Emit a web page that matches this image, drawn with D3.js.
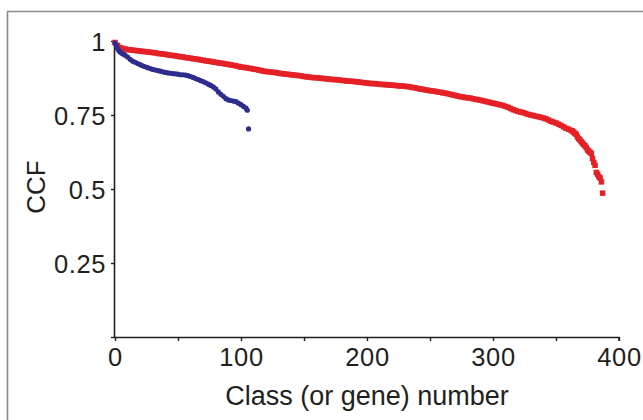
<!DOCTYPE html>
<html>
<head>
<meta charset="utf-8">
<script src="https://cdn.jsdelivr.net/npm/d3@7"></script>
<style>
  html, body { margin: 0; padding: 0; background: #fff; }
  svg { display: block; }
  text { font-family: "Liberation Sans", Arial, Helvetica, sans-serif; fill: #231f20; }
</style>
</head>
<body>
<svg id="chart" width="643" height="420"></svg>
<script>
// ---- Data ----
// Red series: class (or gene) number -> CCF
const redIndex = [
  0,2,4,6,8,10,12,14,16,18,20,22,24,
  26,28,30,32,34,36,38,40,42,44,46,48,50,52,54,56,
  58,60,62,64,66,68,70,72,74,76,78,80,82,84,86,88,90,92,94,96,98,
  100,102,104,106,108,110,112,114,116,118,120,122,124,126,128,130,132,134,136,138,140,142,144,146,148,150,152,
  154,156,158,160,162,164,166,168,170,172,174,176,178,180,182,184,186,188,190,192,194,196,198,200,202,
  204,206,208,210,212,214,216,218,220,222,224,226,228,230,232,234,236,238,240,242,244,246,
  248,250,252,254,256,258,260,262,264,266,268,270,272,274,276,278,280,282,284,286,288,290,292,294,296,298,
  300,302,304,306,308,310,312,314,316,318,320,322,324,326,328,330,
  332,334,336,338,340,342,344,346,348,350,352,354,356,358,360,
  362,363,364,365,366,367,368,369,370,371,372,373,374,375,376,377,378,379,380,381,382,383,384,385,386,387
];
const redCCF = [
  0.995,0.985,0.978,0.975,0.973,0.971,0.970,0.969,0.968,0.967,0.966,0.965,0.964,
  0.963,0.962,0.961,0.960,0.958,0.957,0.956,0.955,0.953,0.952,0.951,0.950,0.948,0.947,0.946,0.944,
  0.943,0.942,0.940,0.939,0.938,0.936,0.935,0.933,0.932,0.931,0.929,0.928,0.926,0.925,0.924,0.922,0.921,0.919,0.918,0.916,0.914,
  0.912,0.911,0.910,0.908,0.907,0.905,0.904,0.902,0.900,0.898,0.897,0.896,0.895,0.894,0.893,0.891,0.890,0.889,0.888,0.887,0.886,0.885,0.884,0.883,0.882,0.880,0.879,
  0.878,0.877,0.876,0.876,0.875,0.874,0.873,0.872,0.871,0.870,0.870,0.869,0.868,0.867,0.866,0.865,0.864,0.864,0.863,0.862,0.861,0.860,0.859,0.858,0.857,
  0.856,0.856,0.855,0.854,0.853,0.853,0.852,0.851,0.851,0.850,0.849,0.848,0.848,0.847,0.846,0.845,0.843,0.842,0.840,0.838,0.837,0.835,
  0.834,0.832,0.831,0.830,0.828,0.827,0.825,0.824,0.822,0.820,0.818,0.816,0.814,0.812,0.811,0.809,0.808,0.807,0.805,0.803,0.802,0.800,0.798,0.796,0.794,0.792,
  0.790,0.788,0.786,0.784,0.782,0.779,0.776,0.772,0.768,0.765,0.762,0.760,0.758,0.755,0.752,0.750,
  0.748,0.746,0.744,0.742,0.740,0.737,0.733,0.729,0.726,0.723,0.719,0.715,0.710,0.705,0.702,
  0.698,0.696,0.692,0.688,0.685,0.676,0.670,0.666,0.660,0.655,0.650,0.646,0.640,0.632,0.628,0.624,0.620,0.603,0.590,0.580,0.556,0.550,0.542,0.537,0.524,0.486
];
// Blue series
const blueIndex = [
  0,1,2,3,4,5,6,7,8,10,12,14,16,18,20,22,24,26,28,30,32,34,36,38,40,42,44,46,48,50,
  52,54,56,58,60,62,64,66,68,70,72,74,76,78,80,82,84,86,88,90,92,94,96,98,100,102,104,105,106
];
const blueCCF = [
  0.993,0.985,0.975,0.968,0.963,0.960,0.957,0.955,0.952,0.946,0.938,0.932,0.928,0.924,0.920,0.916,0.913,0.910,0.907,0.904,0.902,0.900,0.898,0.896,0.894,0.892,0.891,0.890,0.889,0.888,
  0.886,0.886,0.885,0.883,0.880,0.877,0.873,0.870,0.866,0.863,0.859,0.854,0.850,0.845,0.838,0.828,0.820,0.813,0.805,0.801,0.799,0.797,0.795,0.790,0.785,0.779,0.773,0.766,0.703
];
const xTickValues = [0, 50, 100, 150, 200, 250, 300, 350, 400];
const xTickLabels = ["0", "", "100", "", "200", "", "300", "", "400"];
const yTickValues = [0, 0.25, 0.5, 0.75, 1];
const yTickLabels = ["", "0.25", "0.5", "0.75", "1"];
const xTitle = "Class (or gene) number";
const yTitle = "CCF";

// ---- Layout ----
const svg = d3.select("#chart");
const padL = 115, padR = 619, padT = 41, padB = 337;
const x = d3.scaleLinear().domain([0, 400]).range([padL, padR]);
const y = d3.scaleLinear().domain([0, 1]).range([padB, padT]);

// outer frame (top and left edges visible)
svg.append("path")
  .attr("d", `M7.5,430 L7.5,11.5 L650,11.5`)
  .attr("fill", "none").attr("stroke", "#8a8a8a").attr("stroke-width", 1.6);

// axes
const xAxis = d3.axisBottom(x).tickValues(xTickValues)
  .tickFormat((d, i) => xTickLabels[i]).tickSize(4).tickPadding(6);
const yAxis = d3.axisLeft(y).tickValues(yTickValues)
  .tickFormat((d, i) => yTickLabels[i]).tickSize(4).tickPadding(5);

const gx = svg.append("g").attr("transform", `translate(0,${padB})`).call(xAxis);
const gy = svg.append("g").attr("transform", `translate(${padL},0)`).call(yAxis);
[gx, gy].forEach(g => {
  g.select(".domain").attr("stroke", "#231f20").attr("stroke-width", 1.6);
  g.selectAll(".tick line").attr("stroke", "#231f20").attr("stroke-width", 1.4);
  g.selectAll(".tick text").attr("font-size", 25.5).attr("fill", "#231f20")
    .attr("letter-spacing", 0.6)
    .style("font-family", '"Liberation Sans", Arial, sans-serif');
});
gx.selectAll(".domain").attr("d", `M${padL},0.5H${padR}V4`);
gy.selectAll(".domain").attr("d", `M-0.5,${padB}V${padT}`);
gx.selectAll(".tick text").attr("dy", "0.74em");
gy.selectAll(".tick text").attr("dy", "0.36em");

// titles
svg.append("text").attr("x", x(200)).attr("y", 405).attr("text-anchor", "middle")
  .attr("font-size", 27).text(xTitle);
svg.append("text").attr("transform", `translate(45,${y(0.5) - 2}) rotate(-90)`)
  .attr("text-anchor", "middle").attr("font-size", 26).text(yTitle);

// series
const red = redIndex.map((d, i) => ({ x: d, v: redCCF[i] }));
const blue = blueIndex.map((d, i) => ({ x: d, v: blueCCF[i] }));

const rs = 5.5;
svg.append("g").selectAll("rect").data(red).join("rect")
  .attr("x", d => x(d.x) - rs / 2).attr("y", d => y(d.v) - rs / 2)
  .attr("width", rs).attr("height", rs).attr("fill", "#e42127");

svg.append("g").selectAll("circle").data(blue).join("circle")
  .attr("cx", d => x(d.x)).attr("cy", d => y(d.v)).attr("r", 2.6)
  .attr("fill", "#2e2d8e");
</script>
</body>
</html>
